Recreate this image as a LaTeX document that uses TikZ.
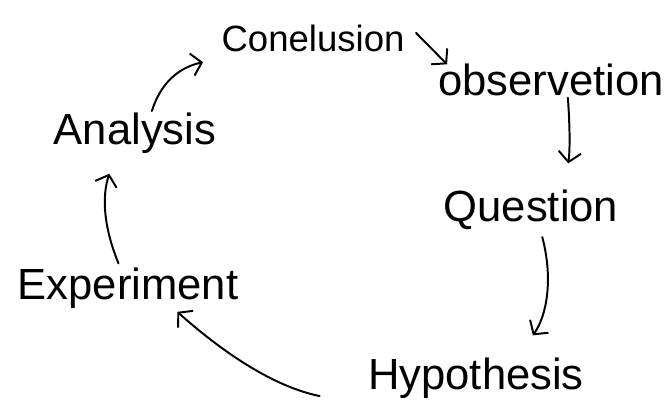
\documentclass[tikz,border=0pt]{standalone}
\usepackage{fontspec}
\setmainfont{Liberation Sans}
\usetikzlibrary{positioning}
\usetikzlibrary{arrows.meta}
\tikzset{
	stage/.style={inner sep=1pt, font=\fontsize{31}{34}\selectfont},
	flow/.style={line width=1.4pt, line cap=round, -{Straight Barb[length=7pt,width=16pt]}}
}

\begin{document}
\begin{tikzpicture}[x=0.025cm, y=-0.025cm]
	\useasboundingbox (0,0) rectangle (671,418);
	\node[stage, font=\fontsize{26}{30}\selectfont] at (313,38) (conclu) {Conelusion};
	\node[stage] at (551,80) (observ) {observetion};
	\node[stage] at (531,210) (questi) {Question};
	\node[stage] at (476,378) (hypoth) {Hypothesis};
	\node[stage] at (128,288) (experi) {Experiment};
	\node[stage] at (135,133) (analys) {Analysis};
	
	\draw[flow, shorten >=2pt] ([xshift=12pt]analys.north) to[bend left=30] ([xshift=-10pt,yshift=-6pt]conclu.south west);
	\draw[flow, shorten <=10pt, shorten >=-2pt] (conclu.north east) -- ([xshift=6pt]observ.north west);
	\draw[flow, shorten >=18pt] ([xshift=12pt]observ.south) to[bend left=6] ([xshift=24pt]questi.north);
	\draw[flow, shorten <=4pt, shorten >=18pt] ([xshift=7pt]questi.south) to[bend left=25] ([xshift=30pt]hypoth.north);
	\draw[flow, shorten <=34pt, shorten >=2pt] ([yshift=-4pt]hypoth.south west) to[bend left=15] (experi.-25);
	\draw[flow, shorten <=2pt, shorten >=14pt] ([xshift=-6pt]experi.north) to[bend left=20] ([xshift=-14pt]analys.south);
	
\end{tikzpicture}
\end{document}
